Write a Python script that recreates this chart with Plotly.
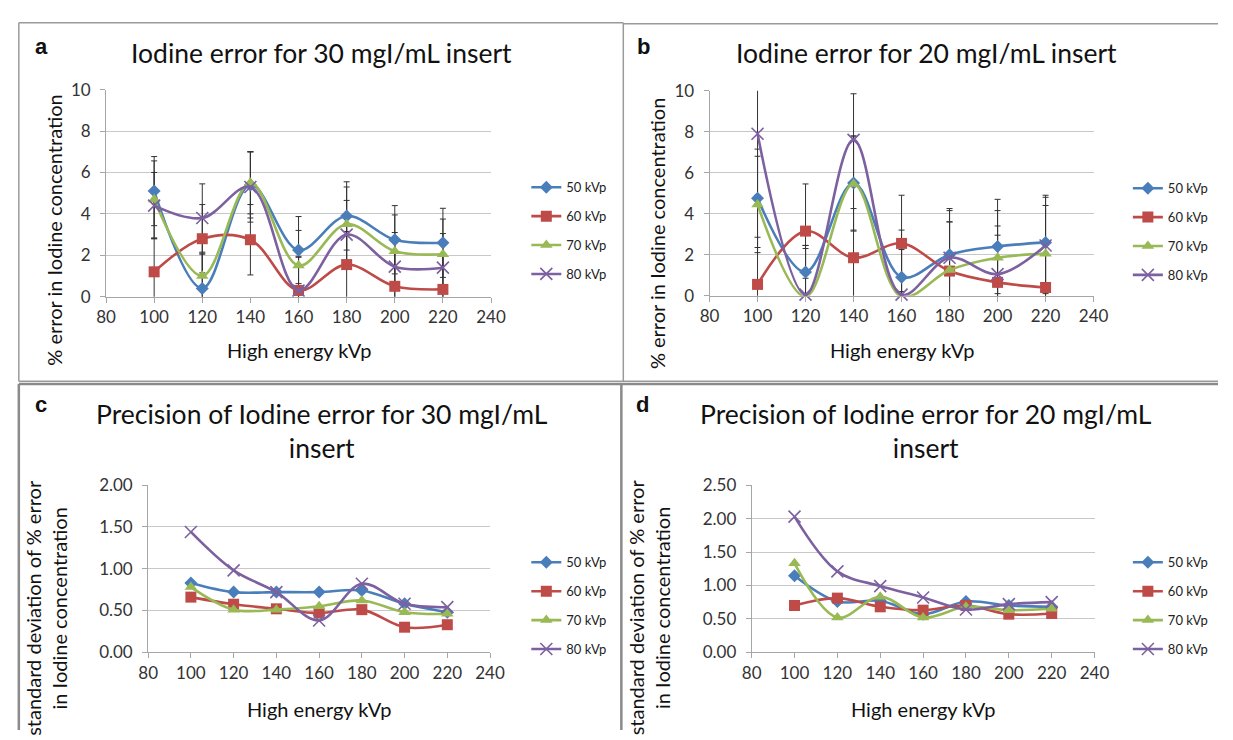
import plotly.graph_objects as go

# ---------------- data ----------------
kvp = [100, 120, 140, 160, 180, 200, 220]
series_names = ["50 kVp", "60 kVp", "70 kVp", "80 kVp"]

# Panel a: % error, 30 mgI/mL insert
a_50 = [5.1, 0.4, 5.4, 2.25, 3.9, 2.75, 2.6]
a_60 = [1.2, 2.8, 2.75, 0.3, 1.55, 0.5, 0.35]
a_70 = [4.7, 1.0, 5.5, 1.5, 3.5, 2.2, 2.05]
a_80 = [4.4, 3.8, 5.3, 0.3, 3.0, 1.45, 1.4]
a_err_50 = [1.67, 1.65, 1.6, 1.62, 1.65, 1.65, 1.67]
a_err_60 = [1.6, 1.65, 1.7, 1.65, 1.6, 1.6, 1.6]
a_err_70 = [1.86, 1.1, 1.5, 1.7, 1.8, 1.75, 1.7]
a_err_80 = [1.6, 1.65, 1.7, 1.6, 1.65, 1.65, 1.65]

# Panel b: % error, 20 mgI/mL insert
b_50 = [4.75, 1.15, 5.5, 0.9, 2.0, 2.4, 2.6]
b_60 = [0.55, 3.15, 1.85, 2.55, 1.2, 0.65, 0.4]
b_70 = [4.45, -0.05, 5.45, -0.05, 1.25, 1.85, 2.05]
b_80 = [7.9, 0.05, 7.6, 0.05, 1.85, 1.05, 2.45]
b_err_50 = [2.4, 1.3, 2.3, 2.3, 2.25, 2.3, 2.3]
b_err_60 = [2.3, 2.3, 2.4, 2.35, 2.4, 2.3, 2.3]
b_err_70 = [2.35, 2.35, 2.3, 2.3, 2.35, 2.3, 2.35]
b_err_80 = [3.0, 2.4, 2.25, 2.3, 2.3, 2.35, 2.35]

# Panel c: SD of % error, 30 mgI/mL insert
c_50 = [0.83, 0.72, 0.72, 0.72, 0.74, 0.58, 0.48]
c_60 = [0.66, 0.575, 0.52, 0.47, 0.51, 0.30, 0.33]
c_70 = [0.78, 0.51, 0.51, 0.55, 0.62, 0.48, 0.46]
c_80 = [1.44, 0.98, 0.72, 0.38, 0.82, 0.58, 0.54]

# Panel d: SD of % error, 20 mgI/mL insert
d_50 = [1.145, 0.76, 0.77, 0.57, 0.76, 0.70, 0.68]
d_60 = [0.70, 0.81, 0.68, 0.63, 0.70, 0.57, 0.58]
d_70 = [1.33, 0.52, 0.83, 0.52, 0.68, 0.63, 0.65]
d_80 = [2.03, 1.21, 0.99, 0.82, 0.64, 0.72, 0.75]

titles = ["Iodine error for 30 mgI/mL insert",
          "Iodine error for 20 mgI/mL insert",
          "Precision of Iodine error for 30 mgI/mL<br>insert",
          "Precision of Iodine error for 20 mgI/mL<br>insert"]
letters = ["a", "b", "c", "d"]
x_title = "High energy kVp"
y_title_top = "% error in Iodine concentration"
y_title_bottom = "standard deviation of % error<br>in Iodine concentration"

# ---------------- style ----------------
W, H = 1233, 740
FONT = "Lato, Carlito, Calibri, sans-serif"
colors = ["#4A7EBB", "#BE4B48", "#98B954", "#7D60A0"]
symbols = ["diamond", "square", "triangle-up", "x-thin"]
msizes = [10, 11, 11, 12]
ERRC = "#333333"


def px_x(v):
    return v / W


def px_y(v):
    return 1 - v / H


panels = [
    dict(x=(98, 491), y=(81, 294), yr=[0, 10], dt=2, fmt="d",
         ys=[a_50, a_60, a_70, a_80], errs=[a_err_50, a_err_60, a_err_70, a_err_80],
         leg=(527, 166)),
    dict(x=(714, 1106), y=(82, 293), yr=[0, 10], dt=2, fmt="d",
         ys=[b_50, b_60, b_70, b_80], errs=[b_err_50, b_err_60, b_err_70, b_err_80],
         leg=(1141, 167)),
    dict(x=(141, 490), y=(488, 660), yr=[0, 2], dt=0.5, fmt=".2f",
         ys=[c_50, c_60, c_70, c_80], errs=None, leg=(527, 552)),
    dict(x=(757, 1107), y=(488, 660), yr=[0, 2.5], dt=0.5, fmt=".2f",
         ys=[d_50, d_60, d_70, d_80], errs=None, leg=(1141, 552)),
]

fig = go.Figure()
layout = dict(
    autosize=True, margin=dict(l=0, r=0, t=0, b=0),
    paper_bgcolor="white", plot_bgcolor="white",
    font=dict(family=FONT, color="#222"),
    showlegend=True,
)

for i, p in enumerate(panels):
    k = "" if i == 0 else str(i + 1)
    xa, ya = "x" + k, "y" + k
    legname = "legend" + k
    # error bars first (underneath)
    if p["errs"] is not None:
        for j in range(4):
            fig.add_trace(go.Scatter(
                x=kvp, y=p["ys"][j], mode="markers",
                marker=dict(size=1, opacity=0, color=colors[j]),
                error_y=dict(type="data", array=p["errs"][j], visible=True,
                             color=ERRC, thickness=1, width=3),
                xaxis=xa, yaxis=ya, showlegend=False, hoverinfo="skip",
                legend=legname,
            ))
    for j in range(4):
        mk = dict(symbol=symbols[j], size=msizes[j], color=colors[j])
        if symbols[j] == "x-thin":
            mk["line"] = dict(color=colors[j], width=1.6)
        fig.add_trace(go.Scatter(
            x=kvp, y=p["ys"][j], mode="lines+markers", name=series_names[j],
            line=dict(color=colors[j], width=2.6, shape="spline", smoothing=1.0),
            marker=mk, xaxis=xa, yaxis=ya, legend=legname,
            legendgroup=f"g{i}{j}", cliponaxis=False,
        ))
    axis_common = dict(showline=True, linecolor="#a6a6a6", linewidth=1,
                       ticks="outside", ticklen=5, tickcolor="#a6a6a6",
                       tickfont=dict(size=17, color="#333", family=FONT),
                       zeroline=False)
    layout["xaxis" + k] = dict(domain=[px_x(p["x"][0]), px_x(p["x"][1])],
                               range=[80, 240], dtick=20, tick0=80,
                               showgrid=False, anchor=ya, **axis_common)
    layout["yaxis" + k] = dict(domain=[px_y(p["y"][1]), px_y(p["y"][0])],
                               range=p["yr"], dtick=p["dt"], tick0=0,
                               tickformat=p["fmt"], showgrid=True,
                               gridcolor="#c8c8c8", gridwidth=1,
                               anchor=xa, ticklabelstandoff=6, **axis_common)
    layout[legname] = dict(x=px_x(p["leg"][0]), y=px_y(p["leg"][1]),
                           xanchor="left", yanchor="top",
                           font=dict(size=13, family=FONT, color="#222"),
                           bgcolor="rgba(0,0,0,0)", tracegroupgap=9,
                           itemwidth=30)

fig.update_layout(**layout)

anns = []
# titles
title_pos = [(318, 43), (935, 43), (318, 432), (935, 432)]
for t, (tx, ty) in zip(titles, title_pos):
    anns.append(dict(text=t, x=px_x(tx), y=px_y(ty), xref="paper", yref="paper",
                     showarrow=False, xanchor="center", yanchor="middle",
                     font=dict(size=26.5, family=FONT, color="#111")))
letter_pos = [(32, 37), (647, 37), (32, 405), (646, 405)]
for t, (tx, ty) in zip(letters, letter_pos):
    anns.append(dict(text="<b>" + t + "</b>", x=px_x(tx), y=px_y(ty), xref="paper",
                     yref="paper", showarrow=False, xanchor="center",
                     yanchor="middle", font=dict(size=22, family="Arial", color="#111")))
# x-axis titles
for tx, ty in [(295, 349), (910, 349), (315, 718), (932, 718)]:
    anns.append(dict(text=x_title, x=px_x(tx), y=px_y(ty), xref="paper",
                     yref="paper", showarrow=False, xanchor="center",
                     yanchor="middle", font=dict(size=20, family=FONT, color="#111")))
# y-axis titles
for tx, ty in [(44, 226), (660, 229)]:
    anns.append(dict(text=y_title_top, x=px_x(tx), y=px_y(ty), xref="paper",
                     yref="paper", showarrow=False, textangle=-90,
                     xanchor="center", yanchor="middle",
                     font=dict(size=20, family=FONT, color="#111")))
for tx, ty in [(36, 614), (652, 614)]:
    anns.append(dict(text=y_title_bottom, x=px_x(tx), y=px_y(ty), xref="paper",
                     yref="paper", showarrow=False, textangle=-90,
                     xanchor="center", yanchor="middle",
                     font=dict(size=20, family=FONT, color="#111")))
fig.update_layout(annotations=anns)

# panel frames
shapes = []
frame = dict(type="line", xref="paper", yref="paper", line=dict(color="#9a9a9a", width=1.5))
for (x0, y0, x1, y1) in [(9, 12, 626, 12), (626, 13, 1233, 13), (9, 12, 9, 381),
                         (626, 12, 626, 381), (9, 381, 1233, 381)]:
    shapes.append(dict(frame, x0=px_x(x0), y0=px_y(y0), x1=px_x(x1), y1=px_y(y1)))
frame2 = dict(type="line", xref="paper", yref="paper", line=dict(color="#8a8a8a", width=2.5))
for (x0, y0, x1, y1) in [(9, 384, 1233, 384), (9, 384, 9, 740), (624, 384, 624, 740)]:
    shapes.append(dict(frame2, x0=px_x(x0), y0=px_y(y0), x1=px_x(x1), y1=px_y(y1)))
fig.update_layout(shapes=shapes)

# pin the plot div to the window's corner (the page body keeps its default margin)
fig.write_html("out.html", config={"displayModeBar": False},
               default_width="1233px;position:fixed;left:0px;top:0px",
               default_height="740px")
